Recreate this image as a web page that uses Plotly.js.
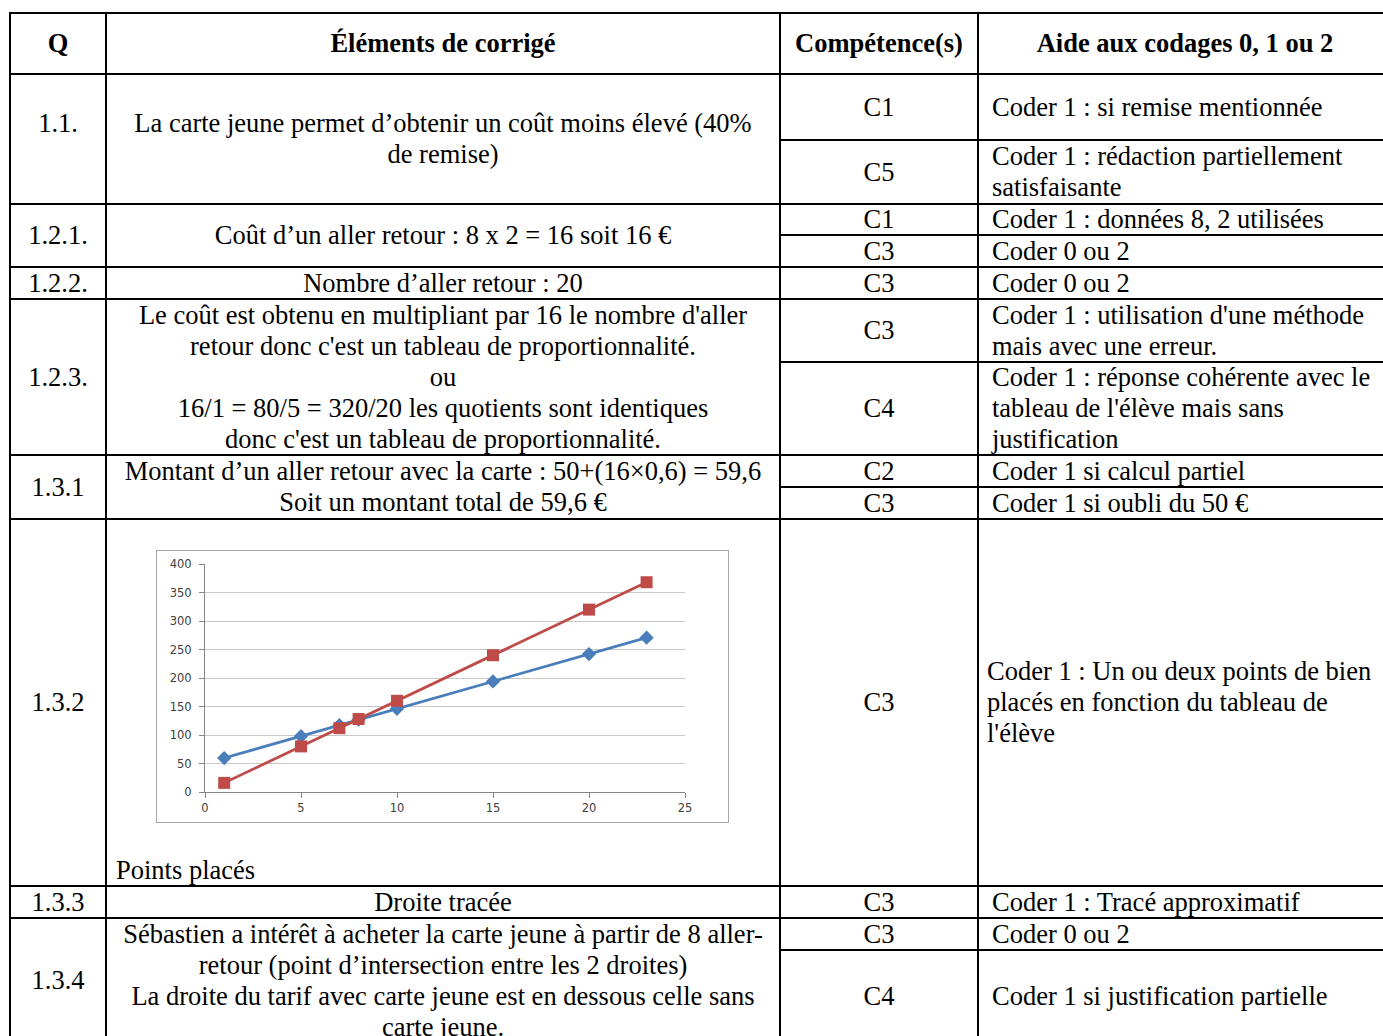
<!DOCTYPE html>
<html>
<head>
<meta charset="utf-8">
<script src="https://cdn.plot.ly/plotly-3.0.1.min.js"></script>
<style>
  html, body { margin: 0; padding: 0; background: #fff; width: 1383px; height: 1036px; overflow: hidden; }
  #page { position: relative; width: 1383px; height: 1036px; font-family: 'Liberation Serif', 'Times New Roman', serif; font-size: 26.5px; color: #000; }
  .ln { position: absolute; background: #000; }
  .cell { position: absolute; display: flex; align-items: center; justify-content: center; text-align: center; line-height: 31px; white-space: nowrap; font-family: 'Liberation Serif', 'Times New Roman', serif; }
  .left { justify-content: flex-start; text-align: left; }
  .hdr { font-weight: bold; }
  #chart { position: absolute; left: 156px; top: 550px; width: 573px; height: 273px; border: 1px solid #a6a6a6; box-sizing: border-box; }
</style>
</head>
<body>
<div id="page"><div id="chart"></div></div>
<script>
// ---- chart data ----
const allerRetour = [1, 5, 7, 8, 10, 15, 20, 23];
const avecCarte   = [59.6, 98, 117.2, 126.8, 146, 194, 242, 270.8];
const sansCarte   = [16, 80, 112, 128, 160, 240, 320, 368];
const xTicks = [0, 5, 10, 15, 20, 25];
const yTicks = [0, 50, 100, 150, 200, 250, 300, 350, 400];

// ---- table texts ----
const headers = ['Q', 'Éléments de corrigé', 'Compétence(s)', 'Aide aux codages 0, 1 ou 2'];
const questions = ['1.1.<br>&nbsp;', '1.2.1.', '1.2.2.', '1.2.3.', '1.3.1', '1.3.2', '1.3.3', '1.3.4'];
const elements = [
  'La carte jeune permet d’obtenir un coût moins élevé (40%<br>de remise)',
  'Coût d’un aller retour : 8 x 2 = 16 soit 16 €',
  'Nombre d’aller retour : 20',
  'Le coût est obtenu en multipliant par 16 le nombre d\'aller<br>retour donc c\'est un tableau de proportionnalité.<br>ou<br>16/1 = 80/5 = 320/20 les quotients sont identiques<br>donc c\'est un tableau de proportionnalité.',
  'Montant d’un aller retour avec la carte : 50+(16×0,6) = 59,6<br>Soit un montant total de 59,6 €',
  '',
  'Droite tracée',
  'Sébastien a intérêt à acheter la carte jeune à partir de 8 aller-<br>retour (point d’intersection entre les 2 droites)<br>La droite du tarif avec carte jeune est en dessous celle sans<br>carte jeune.'
];
const competences = ['C1', 'C5', 'C1', 'C3', 'C3', 'C3', 'C4', 'C2', 'C3', 'C3', 'C3', 'C3', 'C4'];
const aides = [
  'Coder 1 : si remise mentionnée',
  'Coder 1 : rédaction partiellement<br>satisfaisante',
  'Coder 1 : données 8, 2 utilisées',
  'Coder 0 ou 2',
  'Coder 0 ou 2',
  'Coder 1 : utilisation d\'une méthode<br>mais avec une erreur.',
  'Coder 1 : réponse cohérente avec le<br>tableau de l\'élève mais sans<br>justification',
  'Coder 1 si calcul partiel',
  'Coder 1 si oubli du 50 €',
  'Coder 1 : Un ou deux points de bien<br>placés en fonction du tableau de<br>l\'élève',
  'Coder 1 : Tracé approximatif',
  'Coder 0 ou 2',
  'Coder 1 si justification partielle'
];

// ---- geometry ----
const page = document.getElementById('page');
const X = [10, 106, 780, 978, 1395];
const rowY = [74, 204, 267, 299, 455, 519, 886, 918, 1043];
const subY = [[74, 140, 204], [204, 235, 267], [267, 299], [299, 362, 455], [455, 487, 519], [519, 886], [886, 918], [918, 950, 1043]];

function line(x, y, w, h) {
  const d = document.createElement('div');
  d.className = 'ln';
  d.style.left = x + 'px'; d.style.top = y + 'px'; d.style.width = w + 'px'; d.style.height = h + 'px';
  page.appendChild(d);
}
function cell(x0, y0, x1, y1, html, cls, pad) {
  const d = document.createElement('div');
  d.className = 'cell' + (cls ? ' ' + cls : '');
  d.style.left = x0 + 'px'; d.style.top = y0 + 'px';
  d.style.width = (x1 - x0) + 'px'; d.style.height = (y1 - y0) + 'px';
  if (pad) d.style.paddingLeft = pad + 'px';
  d.style.boxSizing = 'border-box';
  d.innerHTML = '<div>' + html + '</div>';
  page.appendChild(d);
  return d;
}

// horizontal lines
[13].concat(rowY).forEach(y => line(X[0] - 1, y - 1, X[4] - X[0] + 2, 2));
subY.forEach(s => s.slice(1, -1).forEach(y => line(X[2], y - 1, X[4] - X[2], 2)));
// vertical lines
X.slice(0, 4).forEach(x => line(x - 1, 12, 2, 1043 - 12));

// header
headers.forEach((h, i) => cell(X[i], 13, X[i + 1] > 1383 ? 1392 : X[i + 1], 74, h, 'hdr'));

// body rows
let k = 0;
for (let r = 0; r < questions.length; r++) {
  const top = subY[r][0], bot = subY[r][subY[r].length - 1];
  cell(X[0], top, X[1], bot, questions[r]);
  if (elements[r]) cell(X[1], top, X[2], bot, elements[r]);
  for (let s = 0; s < subY[r].length - 1; s++) {
    cell(X[2], subY[r][s], X[3], subY[r][s + 1], competences[k]);
    cell(X[3], subY[r][s], 1395, subY[r][s + 1], aides[k], 'left', r === 5 ? 9 : 14);
    k++;
  }
}
// "Points placés" label under the chart
cell(X[1], 854, X[2], 886, 'Points placés', 'left', 10);

// ---- chart ----
const trBlue = {
  x: allerRetour, y: avecCarte, type: 'scatter', mode: 'lines+markers',
  line: { color: '#4a7ebb', width: 2.75 },
  marker: { symbol: 'diamond', size: 11, color: '#4a7ebb' }
};
const trRed = {
  x: allerRetour, y: sansCarte, type: 'scatter', mode: 'lines+markers',
  line: { color: '#be4b48', width: 2.75 },
  marker: { symbol: 'square', size: 12, color: '#be4b48' }
};
const layout = {
  width: 571, height: 271,
  margin: { l: 48, r: 43, t: 13, b: 30 },
  paper_bgcolor: '#fff', plot_bgcolor: '#fff',
  showlegend: false,
  font: { family: 'DejaVu Sans, Liberation Sans, sans-serif', size: 11.5, color: '#404040' },
  xaxis: {
    range: [0, 25], tickvals: xTicks, showgrid: false, zeroline: false,
    showline: true, linecolor: '#868686', linewidth: 1,
    ticks: 'outside', ticklen: 5, tickcolor: '#868686', fixedrange: true
  },
  yaxis: {
    range: [0, 400], tickvals: yTicks, showgrid: true, gridcolor: '#c8c8c8', gridwidth: 1,
    zeroline: false, showline: true, linecolor: '#868686', linewidth: 1,
    ticks: 'outside', ticklen: 5, tickcolor: '#868686', ticklabelstandoff: 5, fixedrange: true
  }
};
Plotly.newPlot('chart', [trBlue, trRed], layout, { staticPlot: true, displayModeBar: false });
</script>
</body>
</html>
